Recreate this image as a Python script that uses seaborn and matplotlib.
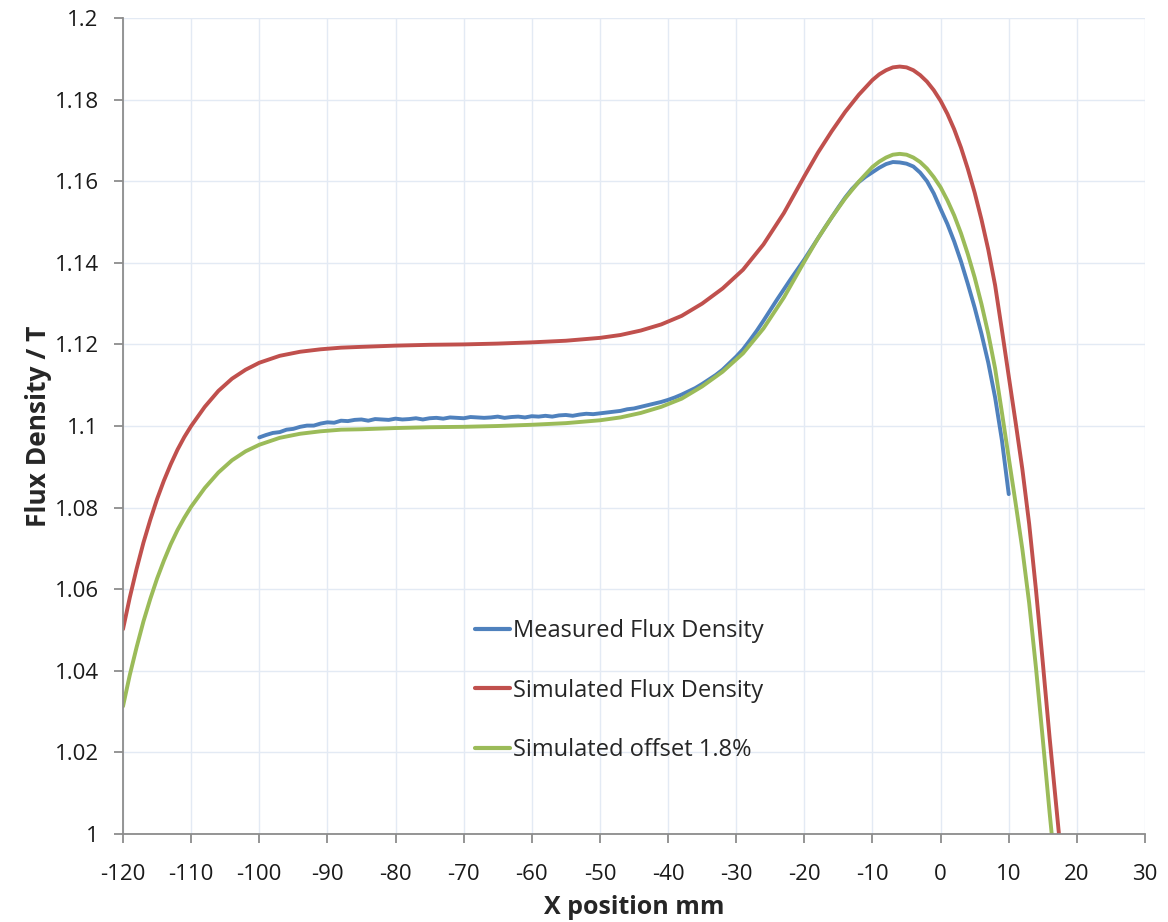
import matplotlib
matplotlib.use("Agg")
import matplotlib.pyplot as plt
import seaborn as sns
import numpy as np
import pandas as pd
from matplotlib.ticker import FuncFormatter, MultipleLocator

# ---------------- data ----------------
sim_x = [-120, -119, -118, -117, -116, -115, -114, -113, -112, -111, -110, -108, -106,
         -104, -102, -100, -97, -94, -91, -88, -85, -80, -75, -70, -65, -60, -55, -50,
         -47, -44, -41, -38, -35, -32, -29, -26, -23, -20, -18, -16, -14, -12, -10,
         -9, -8, -7, -6, -5, -4, -3, -2, -1, 0, 1, 2, 3, 4, 5, 6, 7, 8, 9, 10, 11,
         12, 13, 14, 15, 16, 17, 18]

sim_flux = [1.0502, 1.0580, 1.0650, 1.0714, 1.0770, 1.0821, 1.0866, 1.0906, 1.0942,
            1.0973, 1.1000, 1.1047, 1.1086, 1.1116, 1.1138, 1.1155, 1.1172, 1.1182,
            1.1188, 1.1192, 1.1194, 1.1197, 1.1199, 1.1200, 1.1202, 1.1205, 1.1209,
            1.1216, 1.1223, 1.1234, 1.1249, 1.1270, 1.1300, 1.1337, 1.1383, 1.1445,
            1.1522, 1.1612, 1.1670, 1.1722, 1.1770, 1.1812, 1.1848, 1.1862, 1.1872,
            1.1879, 1.1881, 1.1879, 1.1872, 1.1860, 1.1844, 1.1823, 1.1797, 1.1765,
            1.1727, 1.1682, 1.1630, 1.1572, 1.1506, 1.1432, 1.1345, 1.1235, 1.1122,
            1.1010, 1.0894, 1.0760, 1.0598, 1.0420, 1.0236, 1.0064, 0.9892]

sim_offset = [1.0313, 1.0390, 1.0458, 1.0521, 1.0576, 1.0626, 1.0670, 1.0710, 1.0745,
              1.0775, 1.0802, 1.0848, 1.0886, 1.0916, 1.0938, 1.0954, 1.0971, 1.0981,
              1.0987, 1.0991, 1.0992, 1.0995, 1.0997, 1.0998, 1.1000, 1.1003, 1.1007,
              1.1014, 1.1021, 1.1032, 1.1047, 1.1067, 1.1097, 1.1133, 1.1178, 1.1239,
              1.1315, 1.1403, 1.1460, 1.1511, 1.1558, 1.1599, 1.1635, 1.1648, 1.1658,
              1.1665, 1.1667, 1.1665, 1.1658, 1.1647, 1.1631, 1.1610, 1.1585, 1.1553,
              1.1516, 1.1472, 1.1421, 1.1364, 1.1299, 1.1226, 1.1141, 1.1033, 1.0922,
              1.0812, 1.0698, 1.0566, 1.0407, 1.0232, 1.0052, 0.9883, 0.9714]

meas_x = [-100, -99, -98, -97, -96, -95, -94, -93, -92, -91, -90, -89, -88, -87, -86,
          -85, -84, -83, -82, -81, -80, -79, -78, -77, -76, -75, -74, -73, -72, -71,
          -70, -69, -68, -67, -66, -65, -64, -63, -62, -61, -60, -59, -58, -57, -56,
          -55, -54, -53, -52, -51, -50, -49, -48, -47, -46, -45, -44, -43, -42, -41,
          -40, -39, -38, -37, -36, -35, -34, -33, -32, -31, -30, -29, -28, -27, -26,
          -25, -24, -23, -22, -21, -20, -19, -18, -17, -16, -15, -14, -13, -12, -11,
          -10, -9, -8, -7, -6, -5, -4, -3, -2, -1, 0, 1, 2, 3, 4, 5, 6, 7, 8, 9, 10]

meas_flux = [1.0972, 1.0978, 1.0983, 1.0985, 1.0991, 1.0993, 1.0998, 1.1001, 1.1001,
             1.1006, 1.1009, 1.1008, 1.1013, 1.1012, 1.1015, 1.1016, 1.1013, 1.1017,
             1.1016, 1.1015, 1.1018, 1.1016, 1.1017, 1.1019, 1.1016, 1.1019, 1.1020,
             1.1018, 1.1021, 1.1020, 1.1019, 1.1022, 1.1021, 1.1020, 1.1021, 1.1023,
             1.1020, 1.1022, 1.1023, 1.1021, 1.1024, 1.1023, 1.1025, 1.1023, 1.1026,
             1.1027, 1.1025, 1.1028, 1.1030, 1.1029, 1.1031, 1.1033, 1.1035, 1.1037,
             1.1041, 1.1043, 1.1047, 1.1051, 1.1055, 1.1059, 1.1064, 1.1070, 1.1077,
             1.1085, 1.1093, 1.1103, 1.1114, 1.1125, 1.1138, 1.1154, 1.1170, 1.1188,
             1.1210, 1.1233, 1.1258, 1.1284, 1.1310, 1.1335, 1.1360, 1.1384, 1.1408,
             1.1434, 1.1460, 1.1486, 1.1511, 1.1536, 1.1560, 1.1581, 1.1598, 1.1611,
             1.1622, 1.1633, 1.1642, 1.1647, 1.1646, 1.1643, 1.1636, 1.1621, 1.1600,
             1.1570, 1.1532, 1.1495, 1.1452, 1.1403, 1.1348, 1.1290, 1.1226, 1.1155,
             1.1070, 1.0965, 1.0833]

series_names = ["Measured Flux Density", "Simulated Flux Density", "Simulated offset 1.8%"]
x_ticks = list(range(-120, 31, 10))

# ---------------- style ----------------
sns.set_theme(style="white")
plt.rcParams["font.family"] = ["Open Sans", "DejaVu Sans"]

fig = plt.figure(figsize=(11.68, 9.22), dpi=100)
ax = fig.add_axes([123 / 1168, 1 - 834 / 922, (1145 - 123) / 1168, (834 - 18) / 922])

blue, red, green = "#4F81BD", "#C0504D", "#9BBB59"
lw = 2.8

sns.lineplot(x=meas_x, y=meas_flux, ax=ax, color=blue, lw=lw, label=series_names[0],
             sort=False, estimator=None)
sns.lineplot(x=sim_x, y=sim_flux, ax=ax, color=red, lw=lw, label=series_names[1],
             sort=False, estimator=None)
sns.lineplot(x=sim_x, y=sim_offset, ax=ax, color=green, lw=lw, label=series_names[2],
             sort=False, estimator=None)

ax.set_xlim(-120, 30)
ax.set_ylim(1.0, 1.2)
ax.set_xticks(x_ticks)
ax.yaxis.set_major_locator(MultipleLocator(0.02))
ax.yaxis.set_major_formatter(FuncFormatter(lambda v, p: f"{round(v, 4):g}"))
ax.xaxis.set_major_formatter(FuncFormatter(lambda v, p: f"{int(round(v))}"))

ax.grid(True, color="#E3EAF4", lw=1.0)
ax.set_axisbelow(True)
for s in ["top", "right"]:
    ax.spines[s].set_visible(False)
for s in ["left", "bottom"]:
    ax.spines[s].set_color("#8C8C8C")
    ax.spines[s].set_linewidth(1.3)

ax.tick_params(axis="both", which="major", direction="out", length=6.5, width=1.3,
               color="#8C8C8C", labelsize=16, labelcolor="#1a1a1a",
               left=True, bottom=True)
ax.tick_params(axis="x", pad=15)
ax.tick_params(axis="y", pad=11)

ax.set_xlabel("X position mm", fontsize=18, fontweight="bold", labelpad=7)
ax.set_ylabel("Flux Density / T", fontsize=19, fontweight="bold", labelpad=2)

leg = ax.legend(loc="upper left", bbox_to_anchor=(0.3236, 0.289), frameon=False,
                fontsize=17, handlelength=1.48, handletextpad=0.13, labelspacing=1.49)
for line in leg.get_lines():
    line.set_linewidth(3)

fig.savefig("out.png", dpi=100)
